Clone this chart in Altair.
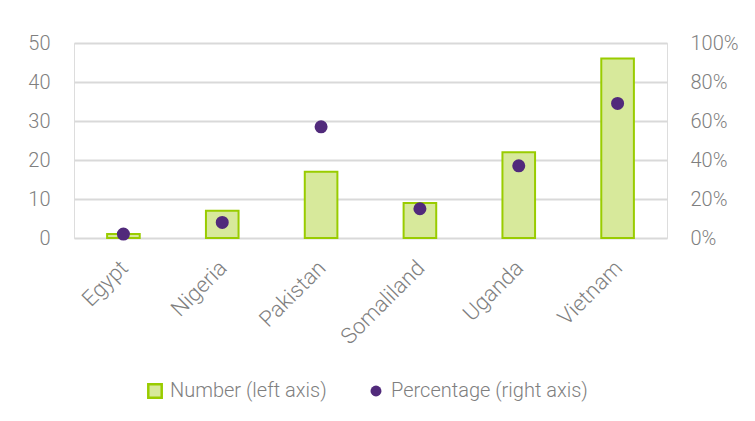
import altair as alt
import pandas as pd

countries = ["Egypt", "Nigeria", "Pakistan", "Somaliland", "Uganda", "Vietnam"]
numbers = [1, 7, 17, 9, 22, 46]
percentages = [0.02, 0.08, 0.57, 0.15, 0.37, 0.69]

df = pd.DataFrame({"country": countries, "number": numbers, "pct": percentages})

FONT = "Roboto Light, Roboto"
GRAY = "#7f7f7f"
FW = 300

x = alt.X("country:N", sort=countries, title=None,
          scale=alt.Scale(paddingInner=0.67, paddingOuter=0.335),
          axis=alt.Axis(labelAngle=-45, labelAlign="right", labelBaseline="middle",
                        labelPadding=26, labelOffset=1, ticks=False, domain=False,
                        labelFontSize=22, labelColor=GRAY, labelFont=FONT,
                        labelFontWeight=FW))

bars = alt.Chart(df).mark_bar(stroke="#99cc00", strokeWidth=2).encode(
    x=x,
    y=alt.Y("number:Q", title=None,
            scale=alt.Scale(domain=[0, 50]),
            axis=alt.Axis(values=[0, 10, 20, 30, 40, 50], grid=True, gridColor="#d9d9d9",
                          gridWidth=2, ticks=False, domain=False, labelPadding=24,
                          labelFontSize=20, labelColor=GRAY, labelFont=FONT,
                          labelFontWeight=FW)),
    fill=alt.Fill("series:N", title=None,
                  scale=alt.Scale(domain=["Number (left axis)"], range=["#d7e99b"]),
                  legend=alt.Legend(orient="none", legendX=71, legendY=338,
                                    symbolType="square", symbolSize=180,
                                    symbolStrokeColor="#99cc00", symbolStrokeWidth=2.5,
                                    labelFontSize=20, labelColor=GRAY, labelFont=FONT,
                                    labelFontWeight=FW, labelOffset=5, labelLimit=400)),
).transform_calculate(series="'Number (left axis)'")

points = alt.Chart(df).mark_circle(size=170, opacity=1).encode(
    x=x,
    y=alt.Y("pct:Q", title=None,
            scale=alt.Scale(domain=[0, 1]),
            axis=alt.Axis(orient="right", values=[0, 0.2, 0.4, 0.6, 0.8, 1.0], format=".0%",
                          grid=False, ticks=False, domain=False, labelPadding=23,
                          labelFontSize=20, labelColor=GRAY, labelFont=FONT,
                          labelFontWeight=FW)),
    color=alt.Color("series:N", title=None,
                    scale=alt.Scale(domain=["Percentage (right axis)"], range=["#512a7b"]),
                    legend=alt.Legend(orient="none", legendX=292, legendY=338,
                                      symbolType="circle", symbolSize=120,
                                      labelFontSize=20, labelColor=GRAY, labelFont=FONT,
                                      labelFontWeight=FW, labelOffset=5, labelLimit=400)),
).transform_calculate(series="'Percentage (right axis)'")

chart = alt.layer(bars, points).resolve_scale(
    y="independent", fill="independent", color="independent"
).properties(
    width=593, height=195,
    autosize=alt.AutoSizeParams(type="none"),
    padding={"left": 66, "top": 35, "right": 80, "bottom": 170},
).configure_view(stroke=None).configure(background="white")

chart.save("out.html", embed_options={"renderer": "svg", "actions": False})
